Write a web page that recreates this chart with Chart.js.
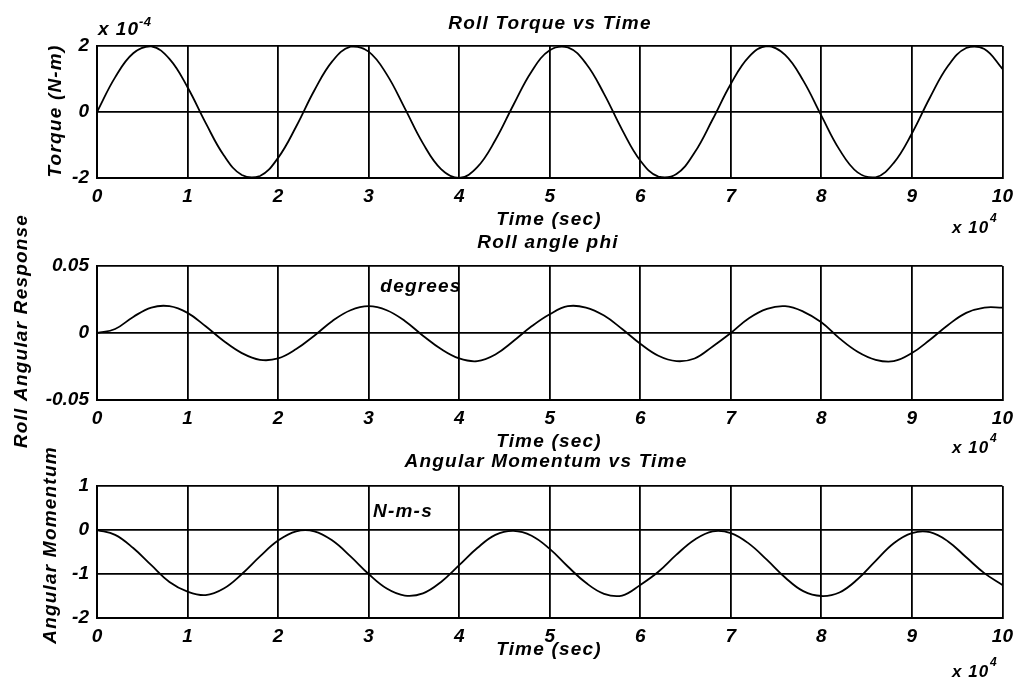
<!DOCTYPE html>
<html>
<head>
<meta charset="utf-8">
<title>Roll Torque / Roll Angle / Angular Momentum</title>
<script src="https://cdn.jsdelivr.net/npm/chart.js@4.4.1/dist/chart.umd.min.js"></script>
<style>
  html, body { margin: 0; padding: 0; background: #fff; }
  #wrap { position: relative; width: 1020px; height: 681px; overflow: hidden; }
  #wrap canvas { position: absolute; left: 0; top: 0; }
</style>
</head>
<body>
<div id="wrap">
  <canvas id="torque-chart" width="1020" height="681"></canvas>
  <canvas id="angle-chart" width="1020" height="681"></canvas>
  <canvas id="momentum-chart" width="1020" height="681"></canvas>
</div>
<script>
// time axis, in units of 1e4 sec
const time = [
  0, 0.2, 0.4, 0.6, 0.8, 1.0, 1.2, 1.4, 1.6, 1.8,
  2.0, 2.2, 2.4, 2.6, 2.8, 3.0, 3.2, 3.4, 3.6, 3.8,
  4.0, 4.2, 4.4, 4.6, 4.8, 5.0, 5.2, 5.4, 5.6, 5.8,
  6.0, 6.2, 6.4, 6.6, 6.8, 7.0, 7.2, 7.4, 7.6, 7.8,
  8.0, 8.2, 8.4, 8.6, 8.8, 9.0, 9.2, 9.4, 9.6, 9.8,
  10.0,
];

// roll torque, in units of 1e-4 N-m
const torque = [
  0, 1.05, 1.78, 1.99, 1.61, 0.75, -0.33, -1.31, -1.91, -1.94,
  -1.39, -0.44, 0.65, 1.54, 1.98, 1.83, 1.14, 0.11, -0.95, -1.73,
  -2.0, -1.67, -0.85, 0.22, 1.23, 1.87, 1.96, 1.47, 0.55, -0.54,
  -1.47, -1.96, -1.88, -1.23, -0.22, 0.85, 1.67, 2.0, 1.73, 0.95,
  -0.11, -1.14, -1.83, -1.98, -1.54, -0.65, 0.44, 1.4, 1.94, 1.91,
  1.31,
];

// roll angle phi, degrees
const rollAngle = [
  0, 0.003, 0.012, 0.019, 0.02, 0.015, 0.005, -0.006, -0.015, -0.02,
  -0.019, -0.012, -0.002, 0.009, 0.017, 0.02, 0.017, 0.009, -0.002, -0.012,
  -0.019, -0.021, -0.016, -0.006, 0.005, 0.014, 0.02, 0.019, 0.013, 0.003,
  -0.008, -0.017, -0.021, -0.019, -0.01, 0.0, 0.011, 0.018, 0.02, 0.016,
  0.008, -0.004, -0.014, -0.02, -0.021, -0.015, -0.005, 0.006, 0.015, 0.019,
  0.019,
];

// angular momentum, N-m-s
const momentum = [
  0, -0.11, -0.41, -0.8, -1.18, -1.4, -1.48, -1.33, -1.0, -0.6,
  -0.24, -0.03, -0.03, -0.24, -0.6, -1.0, -1.33, -1.49, -1.44, -1.18,
  -0.8, -0.41, -0.11, -0.02, -0.13, -0.43, -0.83, -1.2, -1.45, -1.49,
  -1.25, -0.95, -0.56, -0.22, -0.03, -0.07, -0.31, -0.68, -1.08, -1.39,
  -1.5, -1.42, -1.12, -0.7, -0.3, -0.07, -0.05, -0.26, -0.62, -0.98,
  -1.25,
];

// tick labels
const timeTicks = [0, 1, 2, 3, 4, 5, 6, 7, 8, 9, 10];
const torqueTicks = [-2, 0, 2];
const angleTicks = [-0.05, 0, 0.05];
const angleTickLabels = ["-0.05", "0", "0.05"];
const momentumTicks = [-2, -1, 0, 1];

const FONT = '"Liberation Sans", Arial, Helvetica, sans-serif';

// draws free text (titles, axis labels, exponents, notes) in bold italic
const textLabels = {
  id: "textLabels",
  afterDraw(chart, args, opts) {
    const ctx = chart.ctx;
    (opts.items || []).forEach((it) => {
      ctx.save();
      ctx.font = `italic bold ${it.size || 19}px ${FONT}`;
      ctx.letterSpacing = (it.spacing !== undefined ? it.spacing : 1.2) + "px";
      ctx.fillStyle = "#000";
      ctx.textAlign = it.align || "center";
      ctx.textBaseline = "alphabetic";
      ctx.translate(it.x, it.y);
      if (it.rotate) ctx.rotate(it.rotate);
      ctx.fillText(it.text, 0, 0);
      ctx.restore();
    });
  },
};

const exponent = (x, y, power) => [
  { text: "x 10", x: x, y: y, align: "left", size: 17, spacing: 1 },
  { text: power, x: x + 38, y: y - 11, align: "left", size: 12, spacing: 0.5 },
];

const makeChart = (id, values, yTicks, yLabels, yMin, yMax, top, bottom, items) => {
  const ctx = document.getElementById(id);
  const points = time.map((t, i) => ({ x: t, y: values[i] }));

  return new Chart(ctx, {
    type: "line",
    data: {
      datasets: [
        {
          data: points,
          borderColor: "#000",
          borderWidth: 1.8,
          pointRadius: 0,
          tension: 0.4,
          fill: false,
        },
      ],
    },
    options: {
      responsive: false,
      animation: false,
      events: [],
      layout: {
        padding: { left: 0, right: 16, top: top, bottom: 681 - bottom - 30 },
      },
      plugins: {
        legend: { display: false },
        tooltip: { enabled: false },
        title: { display: false },
        textLabels: { items: items },
      },
      scales: {
        x: {
          type: "linear",
          min: 0,
          max: 10,
          afterFit: (s) => {
            s.height = 30;
          },
          afterBuildTicks: (s) => {
            s.ticks = timeTicks.map((v) => ({ value: v }));
          },
          ticks: {
            color: "#000",
            padding: 7,
            maxRotation: 0,
            font: { family: FONT, size: 19, style: "italic", weight: "bold" },
            callback: (v) => String(v),
          },
          grid: { color: "#000", lineWidth: 1.8, drawTicks: false },
          border: { display: true, color: "#000", width: 2 },
        },
        y: {
          type: "linear",
          min: yMin,
          max: yMax,
          afterFit: (s) => {
            s.width = 97;
          },
          afterBuildTicks: (s) => {
            s.ticks = yTicks.map((v) => ({ value: v }));
          },
          ticks: {
            color: "#000",
            padding: 8,
            font: { family: FONT, size: 19, style: "italic", weight: "bold" },
            callback: (v) => yLabels[yTicks.indexOf(v)],
          },
          grid: { color: "#000", lineWidth: 1.8, drawTicks: false },
          border: { display: true, color: "#000", width: 2 },
        },
      },
    },
    plugins: [textLabels],
  });
};

makeChart(
  "torque-chart",
  torque,
  torqueTicks,
  torqueTicks.map(String),
  -2,
  2,
  46,
  178,
  [
    { text: "Roll Torque vs Time", x: 550, y: 29 },
    { text: "Torque (N-m)", x: 61, y: 111, rotate: -Math.PI / 2 },
    { text: "Time (sec)", x: 549, y: 225 },
    { text: "x 10", x: 98, y: 35, align: "left", size: 19, spacing: 1 },
    { text: "-4", x: 139, y: 26, align: "left", size: 13, spacing: 0.5 },
    ...exponent(952, 233, "4"),
  ]
);

makeChart(
  "angle-chart",
  rollAngle,
  angleTicks,
  angleTickLabels,
  -0.05,
  0.05,
  266,
  400,
  [
    { text: "Roll angle phi", x: 548, y: 248 },
    { text: "Roll Angular Response", x: 27, y: 331, rotate: -Math.PI / 2 },
    { text: "degrees", x: 421, y: 292 },
    { text: "Time (sec)", x: 549, y: 447 },
    ...exponent(952, 453, "4"),
  ]
);

makeChart(
  "momentum-chart",
  momentum,
  momentumTicks,
  momentumTicks.map(String),
  -2,
  1,
  486,
  618,
  [
    { text: "Angular Momentum vs Time", x: 546, y: 467 },
    { text: "Angular Momentum", x: 56, y: 545, rotate: -Math.PI / 2 },
    { text: "N-m-s", x: 403, y: 517 },
    { text: "Time (sec)", x: 549, y: 655 },
    ...exponent(952, 677, "4"),
  ]
);
</script>
</body>
</html>
